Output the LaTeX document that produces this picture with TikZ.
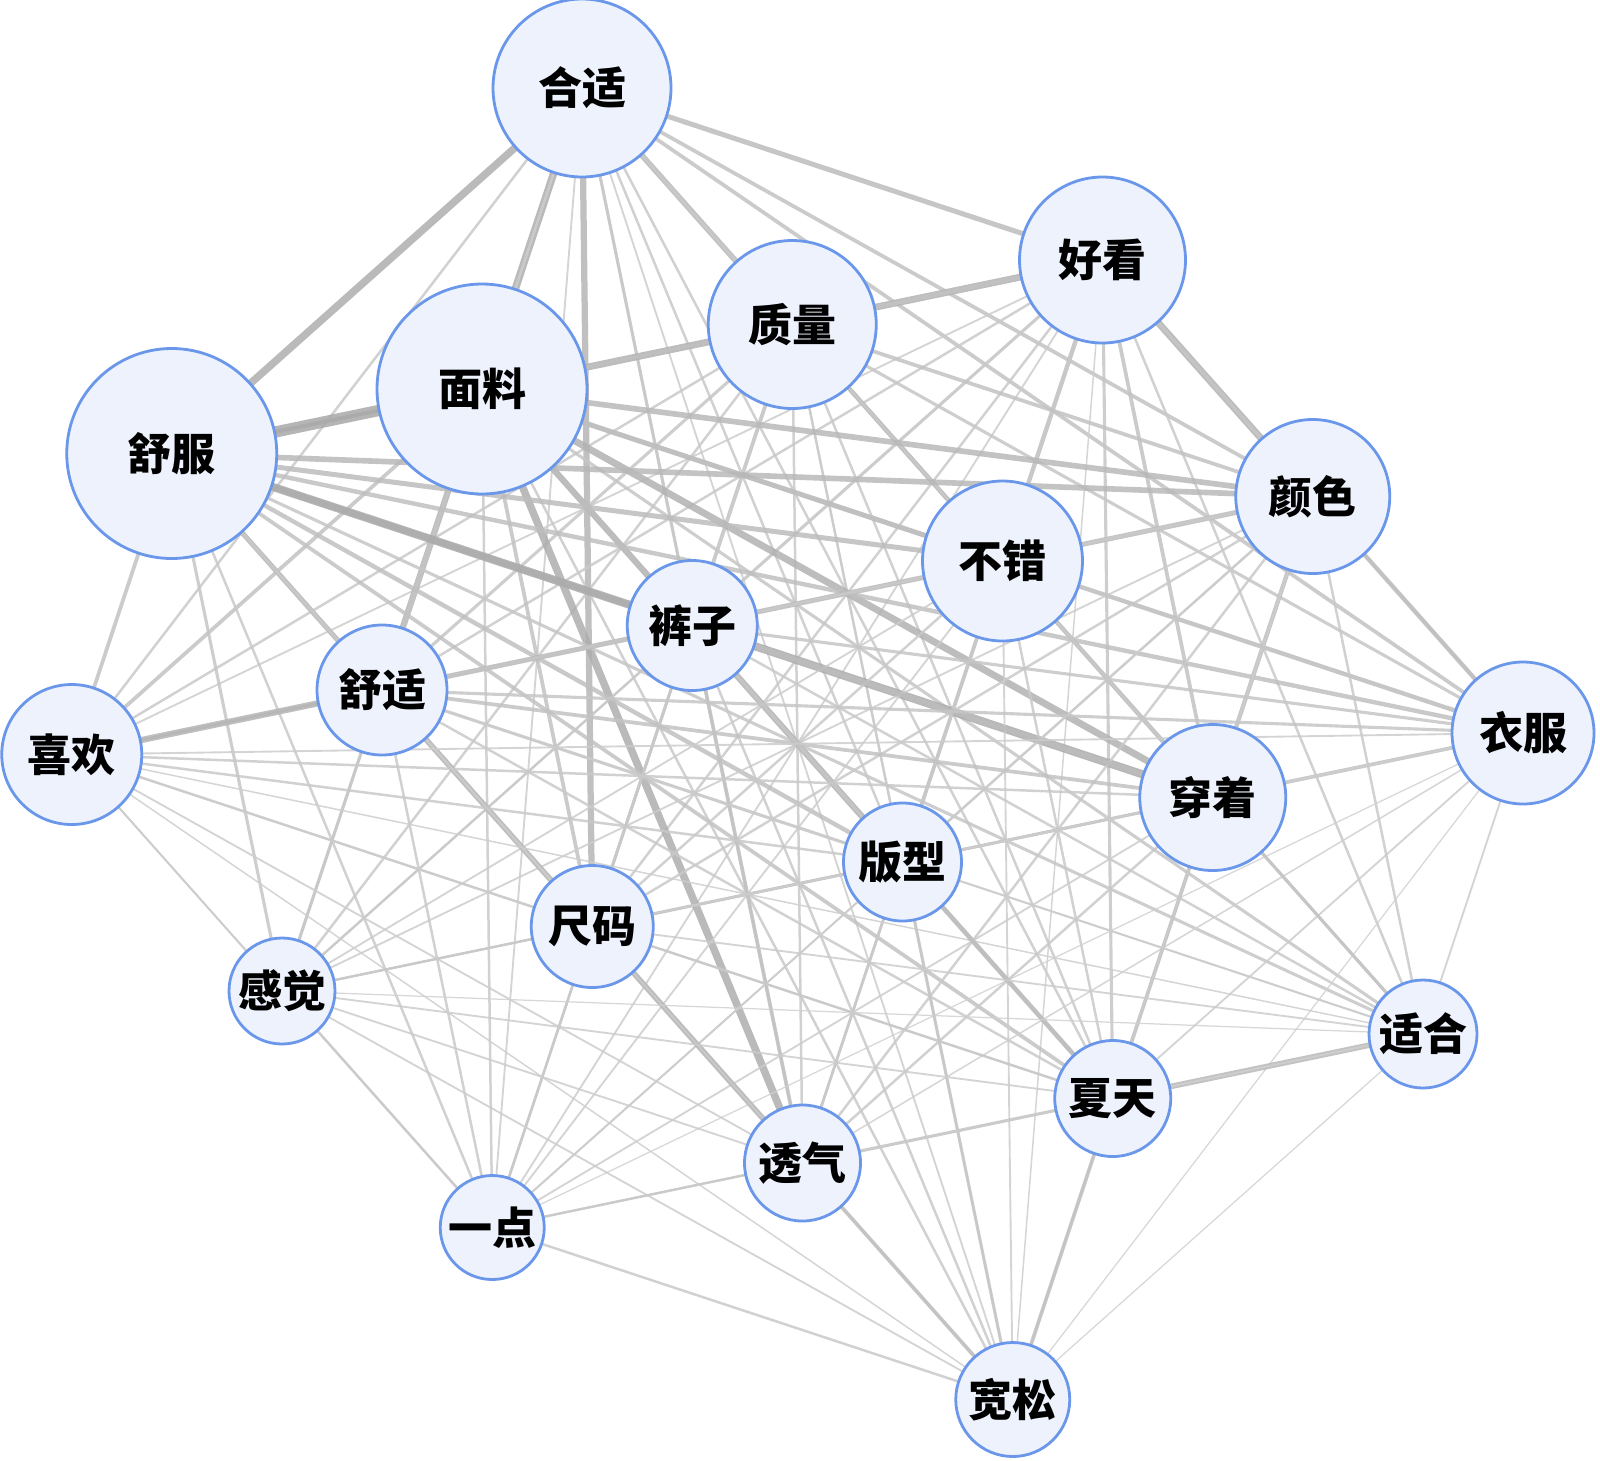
\documentclass[tikz,border=0pt]{standalone}
\usepackage{fontspec}
\newfontfamily\cjk{Noto Sans CJK SC}
\usetikzlibrary{backgrounds}
\definecolor{nodeblue}{HTML}{6A97EA}
\definecolor{nodefill}{HTML}{EDF2FD}
\tikzset{
  wnode/.style={circle, draw=nodeblue, fill=nodefill, line width=2.8pt, inner sep=0pt,
    font=\cjk\bfseries\fontsize{44}{44}\selectfont, text=black},
}
\begin{document}
\begin{tikzpicture}[x=1pt,y=-1pt]
\useasboundingbox (0,0) rectangle (1600,1460);
% nodes (positions on a lattice)
\node[wnode, minimum size=178] (hs) at (582,88) {合适};
\node[wnode, minimum size=166] (hk) at (1102.5,260) {好看};
\node[wnode, minimum size=168] (zl) at (792.25,324.5) {质量};
\node[wnode, minimum size=210] (ml) at (482,389) {面料};
\node[wnode, minimum size=210] (sf) at (171.75,453.5) {舒服};
\node[wnode, minimum size=154] (ys) at (1312.75,496.5) {颜色};
\node[wnode, minimum size=160] (bc) at (1002.5,561) {不错};
\node[wnode, minimum size=130] (kz) at (692.25,625.5) {裤子};
\node[wnode, minimum size=130] (ss) at (382,690) {舒适};
\node[wnode, minimum size=140] (xh) at (71.75,754.5) {喜欢};
\node[wnode, minimum size=142] (yf) at (1523,733) {衣服};
\node[wnode, minimum size=146] (cz) at (1212.75,797.5) {穿着};
\node[wnode, minimum size=118] (bx) at (902.5,862) {版型};
\node[wnode, minimum size=122] (cm) at (592.25,926.5) {尺码};
\node[wnode, minimum size=106] (gj) at (282,991) {感觉};
\node[wnode, minimum size=108] (sh) at (1423,1034) {适合};
\node[wnode, minimum size=116] (xt) at (1112.75,1098.5) {夏天};
\node[wnode, minimum size=116] (tq) at (802.5,1163) {透气};
\node[wnode, minimum size=104] (yd) at (492.25,1227.5) {一点};
\node[wnode, minimum size=114] (ks) at (1012.75,1399.5) {宽松};
\begin{pgfonlayer}{background}
\foreach \u/\v/\w in {
 hs/hk/4, hs/zl/4.5, hs/ml/6, hs/sf/6, hs/ys/3, hs/bc/3, hs/kz/2.5, hs/ss/2, hs/xh/2, hs/yf/3,
 hs/cz/2.5, hs/bx/2, hs/cm/5, hs/gj/1.5, hs/sh/2, hs/xt/2, hs/tq/2, hs/yd/1.5, hs/ks/1.5,
 hk/zl/5.5, hk/ml/3, hk/sf/3, hk/ys/5.5, hk/bc/3.5, hk/kz/2.5, hk/ss/2, hk/xh/1.5, hk/yf/2.5,
 hk/cz/3, hk/bx/2, hk/cm/2, hk/gj/1.5, hk/sh/2, hk/xt/2.5, hk/tq/2, hk/yd/1.5, hk/ks/1.2,
 zl/ml/5.5, zl/sf/3, zl/ys/3, zl/bc/3.5, zl/kz/3, zl/ss/2.5, zl/xh/2, zl/yf/2.5, zl/cz/3.5,
 zl/bx/2, zl/cm/2, zl/gj/2, zl/sh/2, zl/xt/2, zl/tq/2, zl/yd/1.5, zl/ks/1.5,
 ml/sf/9, ml/ys/4.5, ml/bc/4, ml/kz/4, ml/ss/5, ml/xh/3, ml/yf/3.5, ml/cz/5.5, ml/bx/5,
 ml/cm/3, ml/gj/2.5, ml/sh/2.5, ml/xt/3.5, ml/tq/6, ml/yd/2, ml/ks/2,
 sf/ys/4.5, sf/bc/4, sf/kz/5, sf/ss/4, sf/xh/3, sf/yf/3.5, sf/cz/6.5, sf/bx/3.5, sf/cm/3.5,
 sf/gj/2.5, sf/sh/2.5, sf/xt/3, sf/tq/3, sf/yd/2, sf/ks/2,
 ys/bc/4, ys/kz/2.5, ys/ss/2.5, ys/xh/2, ys/yf/3.5, ys/cz/3.5, ys/bx/2, ys/cm/2, ys/gj/1.5,
 ys/sh/2, ys/xt/2, ys/tq/2, ys/yd/1.5, ys/ks/1.5,
 bc/kz/4, bc/ss/2.5, bc/xh/2, bc/yf/2.5, bc/cz/3, bc/bx/3, bc/cm/2, bc/gj/1.5, bc/sh/2,
 bc/xt/2, bc/tq/2, bc/yd/1.5, bc/ks/1.5,
 kz/ss/4, kz/xh/2.5, kz/yf/2.5, kz/cz/4, kz/bx/4, kz/cm/2.5, kz/gj/2, kz/sh/2, kz/xt/2.5,
 kz/tq/3, kz/yd/2, kz/ks/2,
 ss/xh/5, ss/yf/2.5, ss/cz/3, ss/bx/2.5, ss/cm/4.5, ss/gj/2, ss/sh/1.5, ss/xt/2, ss/tq/2.5,
 ss/yd/2, ss/ks/1.5,
 xh/yf/1.5, xh/cz/2, xh/bx/2, xh/cm/2, xh/gj/1.5, xh/sh/1.2, xh/xt/1.5, xh/tq/1.5, xh/yd/1.5, xh/ks/1.2,
 yf/cz/3, yf/bx/2, yf/cm/1.5, yf/gj/1.2, yf/sh/1.5, yf/xt/1.5, yf/tq/1.2, yf/yd/1, yf/ks/1,
 cz/bx/2.5, cz/cm/2, cz/gj/1.5, cz/sh/2.5, cz/xt/3, cz/tq/2, cz/yd/1.5, cz/ks/1.5,
 bx/cm/2.5, bx/gj/1.5, bx/sh/1.5, bx/xt/3.5, bx/tq/2, bx/yd/1.5, bx/ks/2.5,
 cm/gj/2, cm/sh/1.5, cm/xt/2, cm/tq/4.5, cm/yd/2, cm/ks/1.5,
 gj/sh/1, gj/xt/1.5, gj/tq/1.5, gj/yd/2, gj/ks/1.5,
 sh/xt/4.5, sh/tq/1.5, sh/yd/1, sh/ks/1,
 xt/tq/2.5, xt/yd/1.5, xt/ks/3,
 tq/yd/2, tq/ks/3,
 yd/ks/2}{
  \pgfmathsetmacro\c{min(34,16+2.6*\w)}
  \pgfmathsetmacro\lw{1.25*\w}
  \draw[line width=\lw pt, draw=black!\c, opacity=0.85] (\u.center) -- (\v.center);
}
\end{pgfonlayer}
\end{tikzpicture}
\end{document}
